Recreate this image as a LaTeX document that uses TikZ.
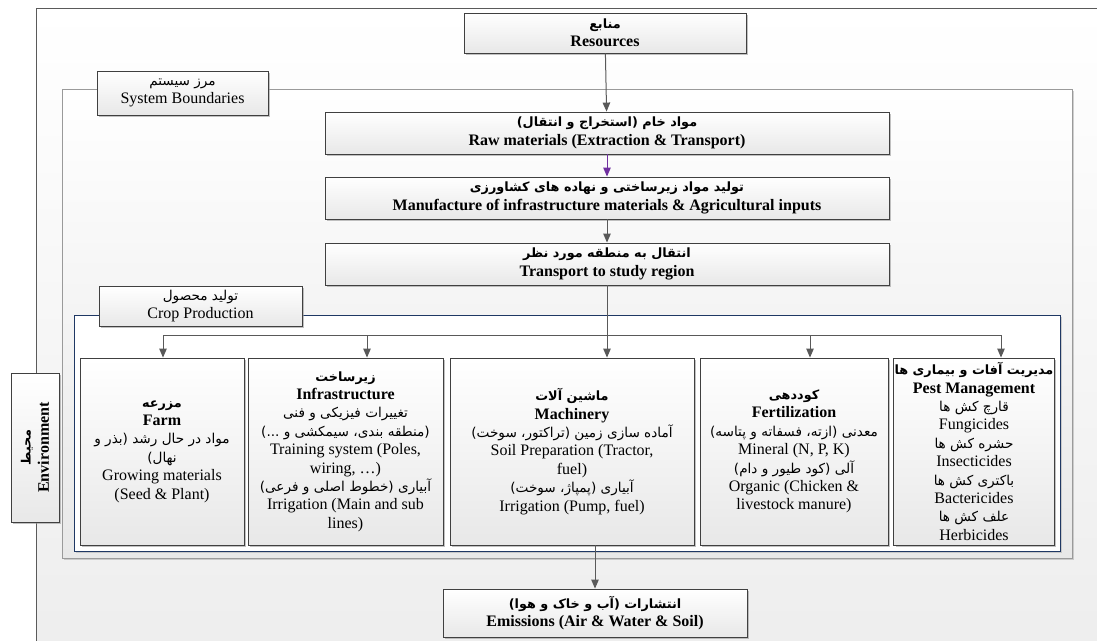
\documentclass[tikz,border=0pt]{standalone}
\usepackage{fontspec}
\setmainfont{Liberation Serif}
\newfontfamily\fafont[Script=Arabic,Scale=0.85]{DejaVu Sans}
\newfontfamily\fabfont[Script=Arabic,Scale=0.8]{DejaVu Sans Bold}
\TeXXeTstate=1
\usetikzlibrary{arrows.meta,shadows}
\newcommand\FA[1]{{\fafont\beginR #1\endR}}
\newcommand\FB[1]{{\fabfont\beginR #1\endR}}
\definecolor{bordc}{HTML}{404040}
\definecolor{arrc}{HTML}{595959}
\definecolor{bluec}{HTML}{1F3864}
\definecolor{purp}{HTML}{7030A0}
\definecolor{envc}{HTML}{5A5A5A}
\definecolor{sysc}{HTML}{9A9A9A}
\begin{document}
\begin{tikzpicture}[x=1pt,y=-1pt,
  txt/.style={font=\fontsize{16}{18.4}\selectfont, align=center},
  box/.style={txt, draw=bordc, line width=0.9pt, top color=white, bottom color=black!9,
    inner sep=1pt, drop shadow={shadow xshift=2pt,shadow yshift=-2pt,fill=black!40,opacity=0.6}},
  frame/.style={inner sep=0pt, line width=0.8pt},
  conn/.style={draw=arrc, line width=1pt},
  arr/.style={conn, -{Triangle[length=9pt,width=7.5pt]}}]
\useasboundingbox (0,0) rectangle (1097,640);
\fill[white] (0,0) rectangle (1097,640);
\begin{scope}
\clip (0,0) rectangle (1097,640);
\node[frame, draw=envc, top color=white, bottom color=black!7, minimum width=1074pt, minimum height=652pt] (env) at (573,334) {};
\end{scope}
\node[frame, draw=sysc, top color=white, bottom color=black!9, minimum width=1010pt, minimum height=469pt,
  drop shadow={shadow xshift=2pt,shadow yshift=-2pt,fill=black!30,opacity=0.6}] (sys) at (567,323.5) {};
\node[frame, draw=bluec, fill=white, minimum width=986pt, minimum height=236pt,
  drop shadow={shadow xshift=2pt,shadow yshift=-2pt,fill=black!30,opacity=0.6}] (crop) at (567,433) {};

% top chain
\node[box, minimum width=282pt, minimum height=40pt] (res) at (605,33) {\FB{منابع}\\\textbf{Resources}};
\node[box, minimum width=564pt, minimum height=42pt] (raw) at (607,133) {\FB{مواد خام (استخراج و انتقال)}\\\textbf{Raw materials (Extraction \& Transport)}};
\node[box, minimum width=564pt, minimum height=42pt] (man) at (607,198) {\FB{تولید مواد زیرساختی و نهاده های کشاورزی}\\\textbf{Manufacture of infrastructure materials \& Agricultural inputs}};
\node[box, minimum width=564pt, minimum height=42pt] (tra) at (607,264) {\FB{انتقال به منطقه مورد نظر}\\\textbf{Transport to study region}};

% labels
\node[box, minimum width=171pt, minimum height=44pt] (sysl) at (182.5,93) {\FA{مرز سیستم}\\System Boundaries};
\node[box, minimum width=203pt, minimum height=40pt] (cropl) at (200.5,306) {\FA{تولید محصول}\\Crop Production};
\node[box, rotate=90, minimum width=149pt, minimum height=48pt] (envl) at (35,447.5) {\FB{محیط}\\\textbf{Environment}};

% crop boxes
\node[box, minimum width=164pt, minimum height=187pt] (farm) at (162,451.5) {\FB{مزرعه}\\\textbf{Farm}\\\FA{مواد در حال رشد (بذر و}\\\FA{نهال)}\\Growing materials\\(Seed \& Plant)};
\node[box, minimum width=195pt, minimum height=187pt] (infra) at (345.5,451.5) {\FB{زیرساخت}\\\textbf{Infrastructure}\\\FA{تغییرات فیزیکی و فنی}\\\FA{(منطقه بندی، سیمکشی و ...)}\\Training system (Poles,\\wiring, \dots)\\\FA{آبیاری (خطوط اصلی و فرعی)}\\Irrigation (Main and sub\\lines)};
\node[box, minimum width=244pt, minimum height=187pt] (mach) at (572,451.5) {\FB{ماشین آلات}\\\textbf{Machinery}\\\FA{آماده سازی زمین (تراکتور، سوخت)}\\Soil Preparation (Tractor,\\fuel)\\\FA{آبیاری (پمپاژ، سوخت)}\\Irrigation (Pump, fuel)};
\node[box, minimum width=188pt, minimum height=187pt] (fert) at (794,451.5) {\FB{کوددهی}\\\textbf{Fertilization}\\\FA{معدنی (ازته، فسفاته و پتاسه)}\\Mineral (N, P, K)\\\FA{آلی (کود طیور و دام)}\\Organic (Chicken \&\\livestock manure)};
\node[box, minimum width=160pt, minimum height=187pt] (pest) at (974,451.5) {\FB{مدیریت آفات و بیماری ها}\\\textbf{Pest Management}\\\FA{قارچ کش ها}\\Fungicides\\\FA{حشره کش ها}\\Insecticides\\\FA{باکتری کش ها}\\Bactericides\\\FA{علف کش ها}\\Herbicides};

\node[box, minimum width=304pt, minimum height=48pt] (emis) at (595,613) {\FB{انتشارات (آب و خاک و هوا)}\\\textbf{Emissions (Air \& Water \& Soil)}};

% connectors
\draw[arr] (res) -- (raw);
\draw[arr, draw=purp] (raw.south) -- (man.north);
\draw[arr] (man.south) -- (tra.north);
\coordinate (dF) at (163,335);
\coordinate (dI) at (367,335);
\coordinate (dR) at (810,335);
\coordinate (dP) at (1001,335);
\draw[conn] (dF) -- (dP);
\draw[arr] (tra.south) -- (mach.north -| tra.south);
\draw[arr] (dF) -- (dF |- farm.north);
\draw[arr] (dI) -- (dI |- infra.north);
\draw[arr] (dR) -- (dR |- fert.north);
\draw[arr] (dP) -- (dP |- pest.north);
\draw[arr] (mach.south -| emis.north) -- (emis.north);
\end{tikzpicture}
\end{document}
